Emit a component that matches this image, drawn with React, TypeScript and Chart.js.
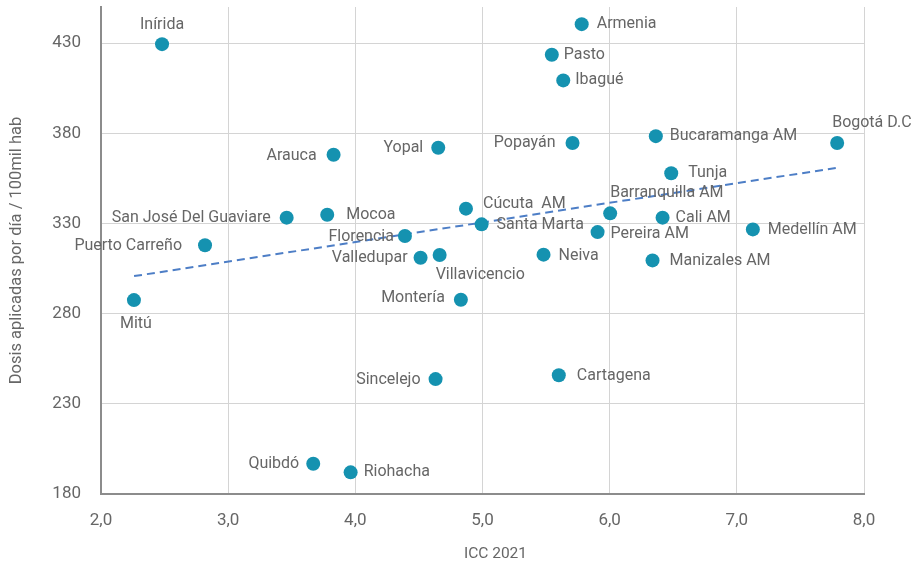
import React, { useEffect, useRef } from 'react';
import { Chart, registerables } from 'chart.js';

Chart.register(...registerables);

const cities = [
  'Inírida', 'Armenia', 'Pasto', 'Ibagué', 'Popayán', 'Yopal', 'Arauca',
  'Bucaramanga AM', 'Bogotá D.C', 'Tunja', 'Barranquilla AM', 'Cali AM',
  'Pereira AM', 'Medellín AM', 'Manizales AM', 'San José Del Guaviare',
  'Puerto Carreño', 'Mitú', 'Mocoa', 'Cúcuta  AM', 'Santa Marta', 'Florencia',
  'Valledupar', 'Villavicencio', 'Neiva', 'Montería', 'Sincelejo', 'Cartagena',
  'Quibdó', 'Riohacha',
];

const icc = [
  2.48, 5.78, 5.545, 5.635, 5.708, 4.652, 3.829,
  6.363, 7.789, 6.484, 6.004, 6.416,
  5.905, 7.126, 6.337, 3.46,
  2.818, 2.259, 3.779, 4.87, 4.993, 4.39,
  4.513, 4.663, 5.48, 4.83, 4.631, 5.6,
  3.669, 3.963,
];

const dosis = [
  429.4, 440.5, 423.5, 409.3, 374.6, 372.0, 368.1,
  378.4, 374.6, 357.8, 335.6, 333.2,
  325.2, 326.7, 309.5, 333.2,
  317.9, 287.5, 334.8, 338.2, 329.5, 323.0,
  311.0, 312.5, 312.7, 287.7, 243.7, 245.8,
  196.8, 192.0,
];

const trendX = [2.26, 7.8];
const trendY = [300.8, 361.0];

const xTicks = [2, 3, 4, 5, 6, 7, 8];
const yTicks = [180, 230, 280, 330, 380, 430];

const xTitle = 'ICC 2021';
const yTitle = 'Dosis aplicadas por día / 100mil hab';

// label placement per city: [textAlign, dx, dy]
const labelPlace: [CanvasTextAlign, number, number][] = [
  ['center', 0, -19], ['left', 15, 0], ['left', 12, 0], ['left', 12, 0],
  ['right', -17, 0], ['right', -15, 0], ['right', -17, 1],
  ['left', 14, 0], ['left', -5, -20], ['left', 17, 0], ['left', 0, -20],
  ['left', 13, 0], ['left', 13, 2], ['left', 15, 1], ['left', 17, 1],
  ['right', -16, 0], ['right', -23, 1], ['center', 2, 24], ['left', 19, 0],
  ['left', 17, -5], ['left', 15, 1], ['right', -11, 1], ['right', -13, 0],
  ['left', -4, 20], ['left', 15, 1], ['right', -16, -2], ['right', -15, 1],
  ['left', 18, 1], ['right', -14, 0], ['left', 13, 0],
];

const TEXT = '#666666';
const FONT = 'Roboto, sans-serif';

const labelPlugin = {
  id: 'cityLabels',
  afterDatasetsDraw(chart: any) {
    const meta = chart.getDatasetMeta(0);
    const ctx = chart.ctx as CanvasRenderingContext2D;
    ctx.save();
    ctx.font = `16px ${FONT}`;
    ctx.fillStyle = TEXT;
    ctx.textBaseline = 'middle';
    meta.data.forEach((el: any, i: number) => {
      const [align, dx, dy] = labelPlace[i];
      ctx.textAlign = align;
      ctx.fillText(cities[i], el.x + dx, el.y + dy);
    });
    // x axis title
    const area = chart.chartArea;
    ctx.font = `15.5px ${FONT}`;
    ctx.textAlign = 'center';
    ctx.fillText(xTitle, (area.left + area.right) / 2 + 13, chart.height - 13);
    ctx.restore();
  },
};

export default function App() {
  const ref = useRef<HTMLCanvasElement>(null);

  useEffect(() => {
    if (!ref.current) return;
    const chart = new Chart(ref.current, {
      type: 'scatter',
      data: {
        datasets: [
          {
            data: icc.map((x, i) => ({ x, y: dosis[i] })),
            backgroundColor: '#1592b0',
            borderWidth: 0,
            pointRadius: 7,
            pointHoverRadius: 7,
            order: 0,
            clip: false as any,
          },
          {
            data: trendX.map((x, i) => ({ x, y: trendY[i] })),
            showLine: true,
            borderColor: '#4d7ec6',
            borderWidth: 2,
            borderDash: [8, 5],
            pointRadius: 0,
            fill: false,
            order: 1,
          } as any,
        ],
      },
      options: {
        animation: false,
        responsive: true,
        maintainAspectRatio: false,
        layout: { padding: { top: 6, right: 55, left: 0, bottom: 0 } },
        plugins: { legend: { display: false }, tooltip: { enabled: false } },
        scales: {
          x: {
            type: 'linear',
            min: 2,
            max: 8,
            afterBuildTicks: (s: any) => {
              s.ticks = xTicks.map((v) => ({ value: v }));
            },
            afterFit: (s: any) => {
              s.height = 73;
              s.paddingLeft = 0;
              s.paddingRight = 0;
            },
            ticks: {
              color: TEXT,
              font: { family: FONT, size: 17 },
              padding: 17,
              callback: (v: any) => Number(v).toFixed(1).replace('.', ','),
            },
            grid: { color: '#d4d4d4', lineWidth: 1, drawTicks: false },
            border: { color: '#8c8c8c', width: 2 },
            title: { display: false },
          },
          y: {
            type: 'linear',
            min: 180,
            max: 450,
            afterBuildTicks: (s: any) => {
              s.ticks = yTicks.map((v) => ({ value: v }));
            },
            afterFit: (s: any) => {
              s.width = 101;
              s.paddingTop = 0;
              s.paddingBottom = 0;
            },
            ticks: {
              color: TEXT,
              font: { family: FONT, size: 17 },
              padding: 20,
            },
            grid: { color: '#d4d4d4', lineWidth: 1, drawTicks: false },
            border: { color: '#8c8c8c', width: 2 },
            title: {
              display: true,
              text: yTitle,
              color: TEXT,
              font: { family: FONT, size: 16.5 },
              padding: { top: 7, bottom: 4 },
            },
          },
        },
      },
      plugins: [labelPlugin],
    });
    return () => chart.destroy();
  }, []);

  return (
    <div style={{ position: 'absolute', left: 0, top: 0, width: 919, height: 567 }}>
      <canvas ref={ref} />
    </div>
  );
}
